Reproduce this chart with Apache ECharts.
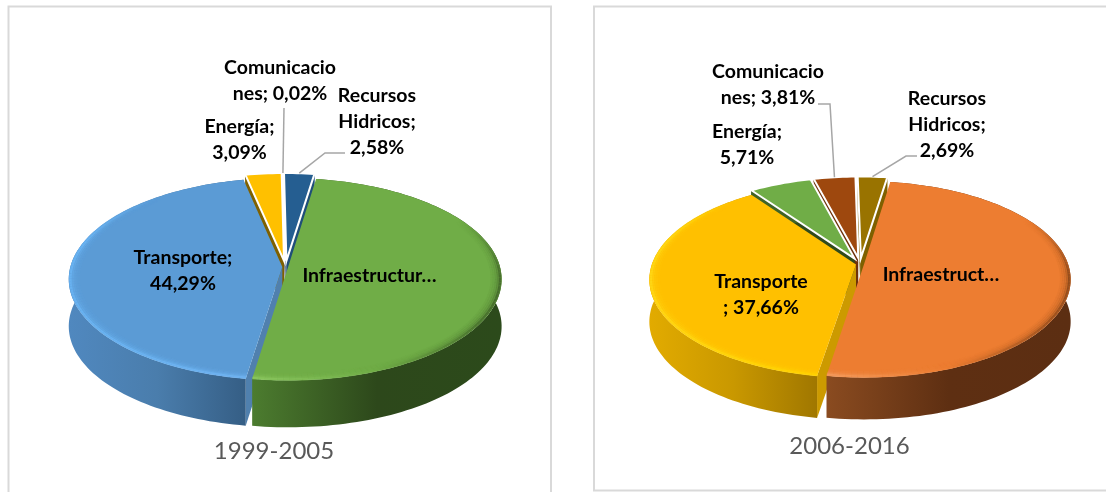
<!DOCTYPE html>
<html>
<head>
<meta charset="utf-8">
<style>html,body{margin:0;padding:0;background:#fff}#c{width:1106px;height:492px}</style>
<script src="https://cdn.jsdelivr.net/npm/echarts@6/dist/echarts.min.js"></script>
</head>
<body>
<div id="c"></div>
<script>
const categories = ['Recursos Hidricos', 'Infraestructura', 'Transporte', 'Energía', 'Comunicaciones'];
const values1999 = [2.58, 50.02, 44.29, 3.09, 0.02];
const values2006 = [2.69, 50.13, 37.66, 5.71, 3.81];
const labels1999 = [['Recursos', 'Hidricos;', '2,58%'], ['Infraestructur…'], ['Transporte;', '44,29%'], ['Energía;', '3,09%'], ['Comunicacio', 'nes; 0,02%']];
const labels2006 = [['Recursos', 'Hidricos;', '2,69%'], ['Infraestruct…'], ['Transporte', '; 37,66%'], ['Energía;', '5,71%'], ['Comunicacio', 'nes; 3,81%']];
const titles = ['1999-2005', '2006-2016'];

const FONT = 'Lato';
const LINE = 26;

const pies = [
  {
    values: values1999, labels: labels1999,
    cx: 285.5, c0: 267, R: 212, ry: 99.6, k: 0.119, thick: 47, rotate: -0.7,
    explode: [0.063, 0.012, 0.015, 0.063, 0.063],
    top:  ['#255e91', '#70ad47', '#5b9bd5', '#ffc000', '#a5a5a5'],
    face: ['#1f4e79', '#3f6327', '#5080ae', '#7f6000', '#7f7f7f'],
    wall: [['#1f4e79', '#1f4e79'], ['#4c7c2f', '#2d481b', '#2c4a1b'], ['#5088bf', '#4a7dac', '#355e85'], ['#7f6000', '#7f6000'], ['#7f7f7f', '#7f7f7f']],
    bevel: [null, ['#8fcb63', '#70ad47', '#3a5a24'], ['#6cb8f8', '#72b6f4'], null, null],
    spots: [[377, 95.7], [369.5, 276], [183, 258], [239.5, 127], [280, 67.5]],
    leaders: [[[325, 153], [345, 153]], null, null, null, [[284, 108]]]
  },
  {
    values: values2006, labels: labels2006,
    cx: 860, c0: 264, R: 204, ry: 95.7, k: 0.153, thick: 42, rotate: -1,
    explode: [0.063, 0.02, 0.02, 0.063, 0.063],
    top:  ['#997300', '#ed7d31', '#ffc000', '#70ad47', '#9e480e'],
    face: ['#7f6000', '#7a3f17', '#cc9a00', '#2f4a1c', '#6e320a'],
    wall: [['#7f6000', '#7f6000'], ['#8a4b20', '#5e2f12', '#5c2e12'], ['#e2ab00', '#c99800', '#a07700'], ['#3f6327', '#3f6327'], ['#6e320a', '#6e320a']],
    bevel: [null, ['#f4a066', '#ed7d31', '#7a3f17'], ['#ffdc1a', '#ffd400'], null, null],
    spots: [[947, 99], [941, 275], [761, 281.7], [747, 131.7], [768, 71.7]],
    leaders: [[[906, 156], [917, 156]], null, null, null, [[830, 104], [818, 104]]]
  }
];
const titleSpots = [[274, 451], [849.5, 446]];

const DEG = Math.PI / 180;
const clamp01 = t => Math.max(0, Math.min(1, t));
const BEVEL_LAYERS = [[0.955, 2.5, 0.06], [0.965, 2.5, 0.12], [0.975, 2.5, 0.2], [0.984, 2.5, 0.35], [0.993, 2.5, 0.75]];

function makeRenderer(p) {
  const total = p.values.reduce((a, b) => a + b, 0);
  const project = (u, v, drop) => {
    const w = 1 + p.k * v;
    return [p.cx + p.R * u / w, p.c0 - p.ry * v / w + (drop || 0)];
  };
  return function (params, api) {
    const i = params.dataIndex;
    const val = api.value(0);
    let before = 0;
    for (let j = 0; j < i; j++) before += p.values[j];
    const a0 = before / total * 360;
    const b0 = (before + val) / total * 360;
    const a = a0 + p.rotate, b = b0 + p.rotate;
    const mid = (a + b) / 2 * DEG;
    const e = p.explode[i];
    const ox = e * Math.sin(mid), oy = e * Math.cos(mid);
    const pt = (deg, r, drop) => project(ox + r * Math.sin(deg * DEG), oy + r * Math.cos(deg * DEG), drop);
    const arc = (from, to, r, drop) => {
      const n = Math.max(2, Math.ceil((to - from) / 1.5));
      const out = [];
      for (let s = 0; s <= n; s++) out.push(pt(from + (to - from) * s / n, r, drop));
      return out;
    };
    const apexT = project(ox, oy, 0), apexB = project(ox, oy, p.thick);
    const containsFront = a <= 180 && b >= 180;
    const base = containsFront ? 500 : Math.round((1 - Math.cos(mid)) * 100);
    const kids = [];
    const poly = (points, style, z) => kids.push({ type: 'polygon', shape: { points }, style, z2: base + z });
    const hgrad = stops => ({ type: 'linear', x: 0, y: 0, x2: 1, y2: 0,
      colorStops: stops.map((c, n) => ({ offset: n / (stops.length - 1), color: c })) });

    if (Math.sin(a * DEG) < 0) {
      poly([apexT, pt(a, 1, 0), pt(a, 1, p.thick), apexB], { fill: p.face[i] }, 0);
    }
    if (Math.sin(b * DEG) > 0) {
      poly([apexT, pt(b, 1, 0), pt(b, 1, p.thick), apexB], { fill: p.face[i] }, 0);
    }
    poly(arc(a, b, 1, 0).concat(arc(a, b, 1, p.thick).reverse()), { fill: hgrad(p.wall[i]) }, 1);

    const small = !p.bevel[i];
    poly([apexT].concat(arc(a, b, 1, 0)),
      small ? { fill: p.top[i], stroke: '#ffffff', lineWidth: 2, lineJoin: 'miter' } : { fill: p.top[i] }, 2);

    if (!small) {
      const from = Math.max(a, 60), to = Math.min(b, 320);
      const xs = arc(from, to, 1, 0).map(q => q[0]);
      const xMin = Math.min(...xs), xMax = Math.max(...xs);
      BEVEL_LAYERS.forEach(([r, w, op], n) => {
        const pts = arc(from, to, r, 0);
        const count = pts.length - 1;
        for (let s = 0; s < count; s++) {
          const deg = from + (to - from) * (s + 0.5) / count;
          const fade = clamp01((deg - 60) / 35) * clamp01((320 - deg) / 35);
          const t = clamp01((pts[s][0] - xMin) / (xMax - xMin));
          kids.push({ type: 'polyline', shape: { points: [pts[s], pts[s + 1]] },
            style: { fill: null, stroke: echarts.color.lerp(t, p.bevel[i]), lineWidth: w, opacity: op * fade },
            z2: base + 3 + n });
        }
      });
    }

    const lead = p.leaders[i];
    if (lead) {
      const rimMid = pt((a + b) / 2, 1, 0);
      kids.push({ type: 'polyline', shape: { points: [rimMid].concat(lead) },
        style: { fill: null, stroke: '#a6a6a6', lineWidth: 1.5 }, z2: 900 });
    }
    p.labels[i].forEach((line, n) => {
      kids.push({ type: 'text', x: p.spots[i][0], y: p.spots[i][1] + n * LINE, z2: 1000,
        style: { text: line, fill: '#000000', fontFamily: FONT, fontWeight: 700, fontSize: 19.5,
          textAlign: 'center', textVerticalAlign: 'middle' } });
    });
    return { type: 'group', children: kids };
  };
}

const frameColor = '#d9d9d9';
const chart = echarts.init(document.getElementById('c'), null, { renderer: 'canvas' });
chart.setOption({
  animation: false,
  backgroundColor: '#ffffff',
  title: titles.map((t, n) => ({
    text: t, left: titleSpots[n][0], top: titleSpots[n][1] - 15, textAlign: 'center', padding: 0,
    textStyle: { fontFamily: FONT, fontWeight: 400, fontSize: 24, color: '#595959', lineHeight: 30 }
  })),
  graphic: [
    { type: 'polyline', silent: true, shape: { points: [[8.5, 500], [8.5, 6.5], [551, 6.5], [551, 500]] }, style: { fill: null, stroke: frameColor, lineWidth: 2 } },
    { type: 'polyline', silent: true, shape: { points: [[1120, 6.5], [594, 6.5], [594, 490.5], [1120, 490.5]] }, style: { fill: null, stroke: frameColor, lineWidth: 2 } }
  ],
  series: pies.map((p, n) => ({
    type: 'custom',
    name: titles[n],
    coordinateSystem: 'none',
    renderItem: makeRenderer(p),
    data: p.values.map((v, i) => ({ name: categories[i], value: [v] }))
  }))
});
</script>
</body>
</html>
